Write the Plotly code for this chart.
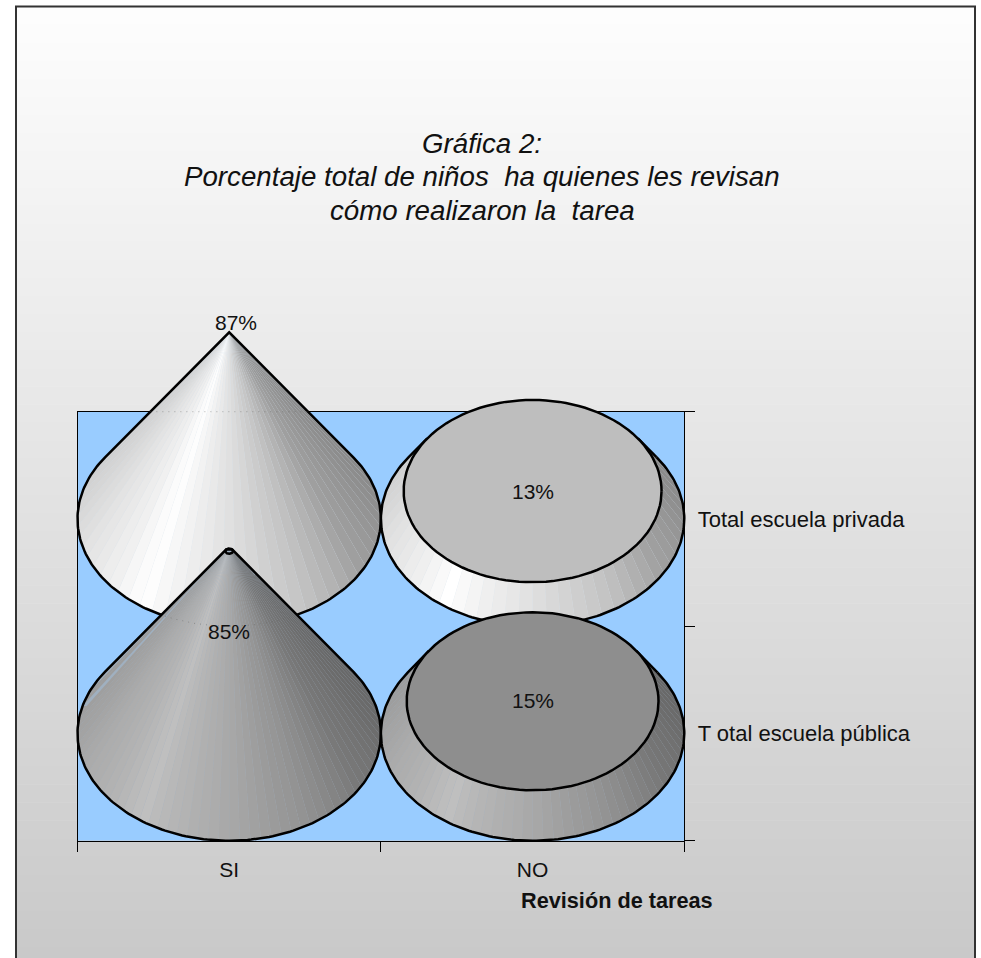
import math
import plotly.graph_objects as go

# ---- data ----
categories = ["SI", "NO"]
series_names = ["T otal escuela pública", "Total escuela privada"]  # bottom row first
publica = [85, 15]
privada = [87, 13]
axis_title = "Revisión de tareas"
title_lines = ["Gráfica 2:",
               "Porcentaje total de niños\u00a0 ha quienes les revisan",
               "cómo realizaron la\u00a0 tarea"]

# ---- style ----
W, H = 981, 958
PL, PR, PT, PB = 77.5, 684.3, 411.7, 840.7
FONT = "Liberation Sans, Arial, sans-serif"
TOP_RATIO = {(1, 0): 0.0, (1, 1): 0.85, (0, 0): 0.025, (0, 1): 0.83}
TOP_FILL = {1: "#bebebe", 0: "#8e8e8e"}
ROW_SHADE = {1: 1.0, 0: 0.75}
UNDER = {1: "#d4e0ec", 0: "#a0b0c0"}
STEP = {1: 5.5, 0: 4.0}
# (angle round the base, grey level) 0 = right, 90 = front, 180 = left
SHADE = [(-40, 0x84), (0, 0x90), (30, 0xa0), (60, 0xc4), (90, 0xe0), (115, 0xf4),
         (125, 0xff), (140, 0xf0), (160, 0xe4), (180, 0xd8), (220, 0xc8)]
# label offset in row units from the base centre
LABEL_DY = {(1, 0): 0.918, (1, 1): 0.13, (0, 0): 0.475, (0, 1): 0.155}
LABEL_DX = {(1, 0): 0.023, (1, 1): 0.0, (0, 0): 0.0, (0, 1): 0.0}

UX = 2 / (PR - PL)
UY = 2 / (PB - PT)


def grey(alpha, k):
    for (a0, g0), (a1, g1) in zip(SHADE, SHADE[1:]):
        if a0 <= alpha <= a1:
            g = g0 + (g1 - g0) * (alpha - a0) / (a1 - a0)
            g = int(round(g * k))
            return f"rgb({g},{g},{g})"
    return "rgb(128,128,128)"


fig = go.Figure()
annotations = []
RX, RY = 0.5, 0.5


def line(xs, ys, **kw):
    fig.add_trace(go.Scatter(x=xs, y=ys, mode="lines", cliponaxis=False, hoverinfo="skip",
                             showlegend=False, xaxis="x2", yaxis="y2", **kw))


def silhouette_half(h, ratio, theta, dy):
    """half width of a cone at height dy above the base centre, on the tangent edge"""
    apex = h / (1 - ratio)
    ty = RY * math.sin(theta)
    tx = RX * math.cos(theta)
    return tx * (apex - dy) / (apex - ty)


def draw_cone(row, col, value):
    cx, cy = col + 0.5, row + 0.5
    h = value / 100
    r = TOP_RATIO[(row, col)]
    apex = h / (1 - r)
    theta = math.degrees(math.asin(RY / apex))
    k = ROW_SHADE[row]
    step = STEP[row]
    start, end = -theta, 180 + theta
    n = int(round((end - start) / step))
    d = (end - start) / n

    def base(a):
        t = math.radians(a)
        return cx + RX * math.cos(t), cy - RY * math.sin(t)

    def top(a):
        t = math.radians(a)
        return cx + r * RX * math.cos(t), cy + h - r * RY * math.sin(t)

    # silhouette underlay: the seams between facets show this faint tint
    outline = [base(start + i * (end - start) / 180) for i in range(181)]
    outline.append(top(end))
    outline += [top(end + i * 3) for i in range(int((360 - (end - start)) / 3) + 1)]
    outline.append(top(start))
    line([p[0] for p in outline] + [outline[0][0]], [p[1] for p in outline] + [outline[0][1]],
         fill="toself", fillcolor=UNDER[row], line=dict(width=0))

    for i in range(n):
        a0, a1 = start + i * d, start + (i + 1) * d
        pts = [base(a0), base(a1), top(a1), top(a0)]
        colour = grey((a0 + a1) / 2, k)
        line([p[0] for p in pts] + [pts[0][0]], [p[1] for p in pts] + [pts[0][1]],
             fill="toself", fillcolor=colour, line=dict(width=0))

    # outline
    outline = [base(start + i * (end - start) / 180) for i in range(181)]
    outline.append(top(end))
    xs = [p[0] for p in outline]
    ys = [p[1] for p in outline]
    if r < 0.5:
        xs += [top(start)[0], xs[0]]
        ys += [top(start)[1], ys[0]]
    else:
        xs += [None, top(start)[0], xs[0]]
        ys += [None, top(start)[1], ys[0]]
    line(xs, ys, line=dict(color="black", width=2.5))

    # top disc
    if r > 0:
        ring = [top(i * 3) for i in range(121)]
        line([p[0] for p in ring], [p[1] for p in ring], fill="toself",
             fillcolor=TOP_FILL[row] if r > 0.5 else "rgba(0,0,0,0)",
             line=dict(color="black", width=2.5))
    return h, r, math.radians(theta)


def dotted(xs, ys):
    line(xs, ys, line=dict(color="rgba(90,90,90,0.45)", width=1, dash="1px,5px"))


# an empty trace keeps the frame axes alive
fig.add_trace(go.Scatter(x=[0, 2], y=[0, 2], mode="none", hoverinfo="skip", showlegend=False))

for row, values in ((1, privada), (0, publica)):
    for col, v in enumerate(values):
        h, r, th = draw_cone(row, col, v)
        annotations.append(dict(x=col + 0.5 + LABEL_DX[(row, col)], y=row + 0.5 + LABEL_DY[(row, col)],
                                xref="x2", yref="y2", text=f"{v}%", showarrow=False,
                                font=dict(family=FONT, size=21, color="#111111")))
        if col == 0 and row == 1:
            half = silhouette_half(h, r, th, 0.5)
            dotted([col + 0.5 - half, col + 0.5 + half], [2, 2])
        if col == 0 and row == 0:
            xs, ys = [], []
            for i in range(181):
                a = math.radians(i)
                x = RX * math.cos(a)
                y = 1.5 - RY * math.sin(a)
                if abs(x) <= silhouette_half(h, r, th, y - 0.5):
                    xs.append(0.5 + x)
                    ys.append(y)
            dotted(xs, ys)

# ---- background ----
shapes = []
Y0, Y1 = 6.5, 965.0
G0, G1 = 0xfd, 0xc9
levels = G0 - G1 + 1
for i in range(levels):
    ya = Y0 + (Y1 - Y0) * i / levels
    yb = Y0 + (Y1 - Y0) * (i + 1) / levels + 0.5
    g = G0 - i
    shapes.append(dict(type="rect", xref="paper", yref="paper", x0=16 / W, x1=975 / W,
                       y0=1 - ya / H, y1=1 - yb / H, line=dict(width=0),
                       fillcolor=f"rgb({g},{g},{g})", layer="below"))
shapes.append(dict(type="rect", xref="x", yref="y", x0=0, x1=2, y0=0, y1=2, line=dict(width=0),
                   fillcolor="#99ccff", layer="below"))
shapes.append(dict(type="rect", xref="paper", yref="paper", x0=16 / W, x1=975 / W,
                   y0=1 - 6.5 / H, y1=1 - 970 / H, line=dict(color="#333333", width=2),
                   fillcolor="rgba(0,0,0,0)", layer="below"))

# ---- texts ----
for text, ypx in zip(title_lines, (143.5, 177, 210.5)):
    annotations.append(dict(x=482 / W, y=1 - ypx / H, xref="paper", yref="paper", text=f"<i>{text}</i>",
                            showarrow=False, font=dict(family=FONT, size=27.7, color="#111111"),
                            xanchor="center", yanchor="middle"))
annotations.append(dict(x=519 / W, y=1 - 900 / H, xref="paper", yref="paper",
                        text=f"<b>{axis_title}</b>", showarrow=False, xanchor="left", yanchor="middle",
                        font=dict(family=FONT, size=21.7, color="#111111")))

fig.update_layout(
    width=W, height=H, margin=dict(l=0, r=0, t=0, b=0), autosize=False,
    paper_bgcolor="white", plot_bgcolor="rgba(0,0,0,0)", shapes=shapes, annotations=annotations,
    showlegend=False,
    xaxis=dict(domain=[PL / W, PR / W], range=[0, 2], tickmode="array", tickvals=[0.5, 1.5],
               ticktext=categories, ticks="outside", ticklen=10, tickcolor="rgba(0,0,0,0)",
               showgrid=False, zeroline=False, showline=True, linecolor="black", linewidth=1, mirror=True,
               tickfont=dict(family=FONT, size=21, color="#111111"),
               minor=dict(tickmode="array", tickvals=[0, 1, 2], ticks="outside", ticklen=10, tickwidth=1,
                          tickcolor="black", showgrid=False)),
    yaxis=dict(domain=[1 - PB / H, 1 - PT / H], range=[0, 2], side="right", tickmode="array",
               tickvals=[0.5, 1.5], ticktext=series_names, ticks="outside", ticklen=8,
               tickcolor="rgba(0,0,0,0)", showgrid=False, zeroline=False, showline=True, linecolor="black",
               linewidth=1, mirror=True, tickfont=dict(family=FONT, size=22, color="#111111"),
               minor=dict(tickmode="array", tickvals=[0, 1, 2], ticks="outside", ticklen=10, tickwidth=1,
                          tickcolor="black", showgrid=False)),
    xaxis2=dict(domain=[0, 1], range=[-PL * UX, (W - PL) * UX], visible=False, anchor="y2"),
    yaxis2=dict(domain=[0, 1], range=[(PB - H) * UY, PB * UY], visible=False, anchor="x2"),
)

fig.write_html("out.html", config={"displayModeBar": False},
               post_script="document.body.style.margin='0';document.documentElement.style.overflow='hidden';")
